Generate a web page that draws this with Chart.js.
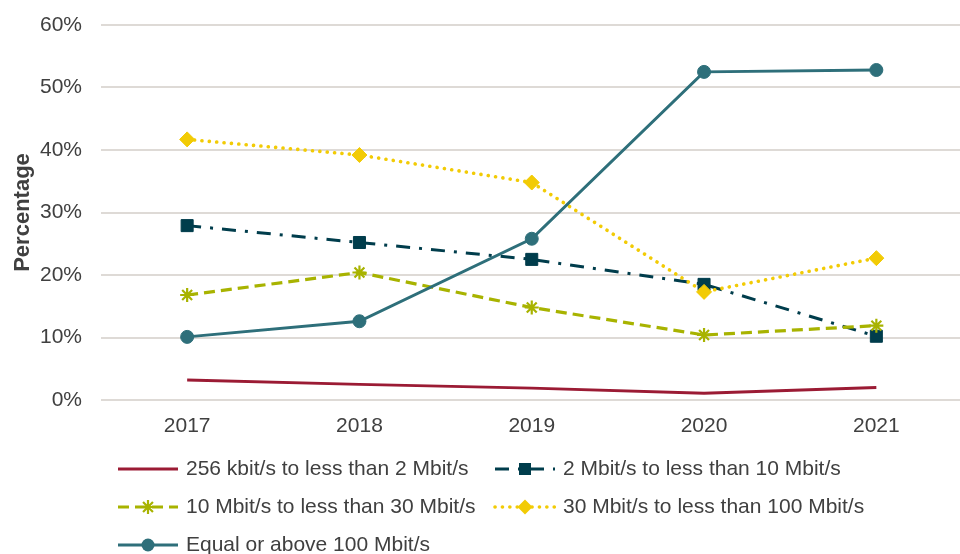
<!DOCTYPE html>
<html><head><meta charset="utf-8">
<script src="https://cdn.jsdelivr.net/npm/chart.js@4.4.1/dist/chart.umd.min.js"></script>
<style>
html,body{margin:0;padding:0;background:#fff;overflow:hidden}
#wrap{width:960px;height:554px;overflow:hidden;position:relative}
</style>
</head><body>
<div id="wrap"><canvas id="c" width="972" height="554" style="width:972px;height:554px"></canvas></div>
<script>
// ---- data ----
const years = ['2017', '2018', '2019', '2020', '2021'];
const seriesNames = [
  '256 kbit/s to less than 2 Mbit/s',
  '2 Mbit/s to less than 10 Mbit/s',
  '10 Mbit/s to less than 30 Mbit/s',
  '30 Mbit/s to less than 100 Mbit/s',
  'Equal or above 100 Mbit/s'
];
const s256k = [3.2, 2.5, 1.9, 1.1, 2.0];
const s2m = [27.9, 25.2, 22.5, 18.5, 10.2];
const s10m = [16.8, 20.4, 14.8, 10.4, 11.9];
const s30m = [41.7, 39.2, 34.8, 17.3, 22.7];
const s100m = [10.1, 12.6, 25.8, 52.5, 52.8];
const yTickValues = [0, 10, 20, 30, 40, 50, 60];
const yTitle = 'Percentage';

const FONT = "'Liberation Sans', Arial, sans-serif";
const TXT = '#404040';

function drawMarker(ctx, style, r, x, y, color) {
  ctx.save();
  ctx.fillStyle = color; ctx.strokeStyle = color; ctx.setLineDash([]);
  ctx.beginPath();
  if (style === 'circle') { ctx.arc(x, y, r, 0, Math.PI * 2); ctx.fill(); }
  else if (style === 'rect') { const s = Math.SQRT1_2 * r; ctx.rect(x - s, y - s, 2 * s, 2 * s); ctx.fill(); }
  else if (style === 'rectRot') { ctx.moveTo(x, y - r); ctx.lineTo(x + r, y); ctx.lineTo(x, y + r); ctx.lineTo(x - r, y); ctx.closePath(); ctx.fill(); }
  else if (style === 'star') {
    ctx.lineWidth = 2.2;
    for (let k = 0; k < 4; k++) { const a = k * Math.PI / 4; ctx.moveTo(x - Math.cos(a) * r, y - Math.sin(a) * r); ctx.lineTo(x + Math.cos(a) * r, y + Math.sin(a) * r); }
    ctx.stroke();
  }
  ctx.restore();
}

const legendColX = [118, 495];
const legendRowY = [469, 507, 545];
const customLegend = {
  id: 'customLegend',
  afterDraw(chart) {
    const ctx = chart.ctx;
    chart.data.datasets.forEach((ds, i) => {
      const x0 = legendColX[i % 2], y = legendRowY[Math.floor(i / 2)];
      ctx.save();
      ctx.strokeStyle = ds.borderColor; ctx.lineWidth = ds.borderWidth;
      ctx.setLineDash(ds.borderDash || []); ctx.lineCap = ds.borderCapStyle || 'butt';
      ctx.beginPath(); ctx.moveTo(x0, y); ctx.lineTo(x0 + 60, y); ctx.stroke();
      ctx.restore();
      if (ds.pointRadius > 0) drawMarker(ctx, ds.pointStyle, ds.pointRadius, x0 + 30, y, ds.borderColor);
      ctx.save();
      ctx.fillStyle = TXT; ctx.font = '21px ' + FONT; ctx.textBaseline = 'middle'; ctx.textAlign = 'left';
      ctx.fillText(ds.label, x0 + 68, y);
      ctx.restore();
    });
  }
};

const styles = [
  { color: '#9B1B34', dash: [], point: 'circle', r: 0, cap: 'butt', w: 3 },
  { color: '#003D4C', dash: [14, 9, 3, 9], point: 'rect', r: 8.5, cap: 'butt', w: 3 },
  { color: '#A8B300', dash: [11, 6], point: 'star', r: 7, cap: 'butt', w: 3.2 },
  { color: '#F2CB05', dash: [0.1, 7.3], point: 'rectRot', r: 7.5, cap: 'round', w: 3.6 },
  { color: '#2E6F7A', dash: [], point: 'circle', r: 6.5, cap: 'butt', w: 3 }
];
const values = [s256k, s2m, s10m, s30m, s100m];

const datasets = values.map((v, i) => ({
  label: seriesNames[i],
  data: v,
  borderColor: styles[i].color,
  backgroundColor: styles[i].color,
  pointBackgroundColor: styles[i].color,
  pointBorderColor: styles[i].color,
  pointBorderWidth: styles[i].point === 'star' ? 2.2 : 1,
  borderWidth: styles[i].w,
  borderDash: styles[i].dash,
  borderCapStyle: styles[i].cap,
  pointStyle: styles[i].point,
  pointRadius: styles[i].r,
  pointHoverRadius: styles[i].r,
  tension: 0,
  fill: false,
  order: 5 - i
}));

new Chart(document.getElementById('c'), {
  type: 'line',
  data: { labels: years, datasets },
  plugins: [customLegend],
  options: {
    responsive: false,
    animation: false,
    events: [],
    layout: { padding: { left: 0, right: 0, top: 25, bottom: 0 } },
    plugins: { legend: { display: false }, tooltip: { enabled: false } },
    scales: {
      x: {
        offset: true,
        grid: { display: false, drawTicks: false },
        border: { display: false },
        ticks: { color: TXT, font: { size: 21, family: FONT }, padding: 14 },
        afterFit(s) { s.height = 154; s.paddingLeft = 0; s.paddingRight = 0; }
      },
      y: {
        min: 0, max: 60,
        afterBuildTicks(s) { s.ticks = yTickValues.map(v => ({ value: v })); },
        ticks: { color: TXT, font: { size: 21, family: FONT }, padding: 19, callback: v => v + '%' },
        grid: { color: '#DEDAD6', lineWidth: 2, drawTicks: false },
        border: { display: false },
        title: { display: true, text: yTitle, color: TXT, font: { size: 22, weight: 'bold', family: FONT }, padding: { top: 10, bottom: 0 } },
        afterFit(s) { s.width = 101; s.paddingTop = 0; s.paddingBottom = 0; }
      }
    }
  }
});
</script>
</body></html>
